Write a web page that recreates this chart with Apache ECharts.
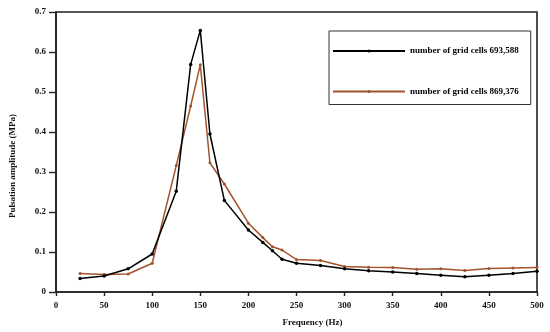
<!DOCTYPE html>
<html>
<head>
<meta charset="utf-8">
<script src="https://cdn.jsdelivr.net/npm/echarts@6/dist/echarts.min.js"></script>
<style>html,body{margin:0;padding:0;background:#fff}#c{width:550px;height:332px}</style>
</head>
<body>
<div id="c"></div>
<script>
const frequency = [25, 50, 75, 100, 125, 140, 150, 160, 175, 200, 215, 225, 235, 250, 275, 300, 325, 350, 375, 400, 425, 450, 475, 500];
const cells693588 = [0.034, 0.040, 0.058, 0.095, 0.252, 0.569, 0.654, 0.395, 0.229, 0.155, 0.124, 0.103, 0.082, 0.072, 0.066, 0.058, 0.053, 0.050, 0.046, 0.042, 0.038, 0.042, 0.046, 0.052];
const cells869376 = [0.046, 0.044, 0.045, 0.072, 0.316, 0.465, 0.568, 0.323, 0.270, 0.172, 0.136, 0.113, 0.105, 0.081, 0.079, 0.064, 0.062, 0.061, 0.057, 0.058, 0.054, 0.059, 0.060, 0.061];
const seriesNames = ['number of grid cells 693,588', 'number of grid cells 869,376'];
const xTicks = [0, 50, 100, 150, 200, 250, 300, 350, 400, 450, 500];
const yTicks = [0, 0.1, 0.2, 0.3, 0.4, 0.5, 0.6, 0.7];

const font = 'Liberation Serif';
const chart = echarts.init(document.getElementById('c'), null, {renderer: 'canvas'});
const pair = (xs, ys) => xs.map((x, i) => [x, ys[i]]);
chart.setOption({
  animation: false,
  backgroundColor: '#fff',
  textStyle: {fontFamily: font},
  grid: {left: 56, right: 13, top: 12, bottom: 39, show: true, borderColor: '#222', borderWidth: 1.6, backgroundColor: 'transparent'},
  legend: {
    left: 329, top: 31,
    orient: 'vertical',
    itemWidth: 72, itemHeight: 4, itemGap: 30.5,
    padding: [15, 12, 8, 3],
    borderColor: '#333', borderWidth: 1,
    textStyle: {fontFamily: font, fontWeight: 'bold', fontSize: 9, color: '#000', lineHeight: 10},
    data: seriesNames
  },
  xAxis: {
    type: 'value', min: xTicks[0], max: xTicks[xTicks.length - 1], interval: 50,
    name: 'Frequency (Hz)', nameLocation: 'middle', nameGap: 26,
    nameTextStyle: {fontFamily: font, fontWeight: 'bold', fontSize: 9, color: '#111', padding: [0, 0, 0, 32]},
    axisLine: {lineStyle: {color: '#222', width: 1.6}},
    axisTick: {length: 4, lineStyle: {color: '#222', width: 1.4}},
    axisLabel: {fontFamily: font, fontWeight: 'bold', fontSize: 9, color: '#111', margin: 9},
    splitLine: {show: false}
  },
  yAxis: {
    type: 'value', min: yTicks[0], max: yTicks[yTicks.length - 1], interval: 0.1,
    name: 'Pulsation amplitude (MPa)', nameLocation: 'middle', nameGap: 39,
    nameTextStyle: {fontFamily: font, fontWeight: 'bold', fontSize: 9, color: '#111', padding: [0, 28, 0, 0]},
    axisLine: {lineStyle: {color: '#222', width: 1.6}},
    axisTick: {length: 7, lineStyle: {color: '#222', width: 1.4}},
    axisLabel: {fontFamily: font, fontWeight: 'bold', fontSize: 9, color: '#111', margin: 10,
      formatter: v => String(Math.round(v * 10) / 10)},
    splitLine: {show: false}
  },
  series: [
    {
      name: seriesNames[0], type: 'line', data: pair(frequency, cells693588),
      symbol: 'circle', symbolSize: 3.5,
      lineStyle: {color: '#000', width: 1.5}, itemStyle: {color: '#000'}, z: 3
    },
    {
      name: seriesNames[1], type: 'line', data: pair(frequency, cells869376),
      symbol: 'circle', symbolSize: 3,
      lineStyle: {color: '#a3532b', width: 1.5}, itemStyle: {color: '#a3532b'}, z: 2
    }
  ]
});
</script>
</body>
</html>
